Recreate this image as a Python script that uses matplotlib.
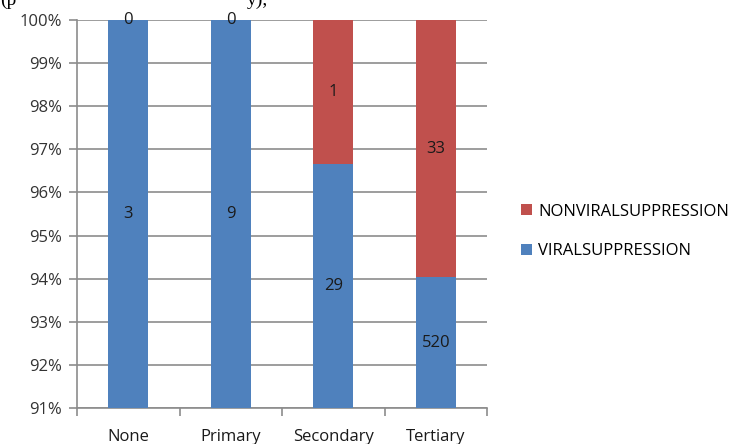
import numpy as np
import matplotlib.pyplot as plt

plt.rcParams['font.family'] = ['Open Sans', 'DejaVu Sans']

# Counts by education level
categories = ['None', 'Primary', 'Secondary', 'Tertiary']
viral = [3, 9, 29, 520]
nonviral = [0, 0, 1, 33]

blue = '#4F81BD'
red = '#C0504D'
grid_col = '#8C8C8C'

viral = np.array(viral, dtype=float)
nonviral = np.array(nonviral, dtype=float)
total = viral + nonviral
viral_pct = viral / total * 100
nonviral_pct = nonviral / total * 100

ymin, ymax = 91, 100

fig = plt.figure(figsize=(7.47, 4.44), dpi=100)
ax = fig.add_axes([0.1031, 0.0811, 0.549, 0.874])

x = np.arange(len(categories))
ax.bar(x, viral_pct, width=0.39, color=blue, zorder=3, label='VIRALSUPPRESSION')
ax.bar(x, nonviral_pct, width=0.39, bottom=viral_pct, color=red, zorder=3,
       label='NONVIRALSUPPRESSION')

# value labels centred in the visible part of each segment
for i in range(len(categories)):
    lo = max(0, ymin)
    hi = min(viral_pct[i], ymax)
    ax.text(x[i], (lo + hi) / 2, f'{int(viral[i])}', ha='center', va='center',
            fontsize=12, color='#1a1a1a', zorder=4)
    lo2 = max(viral_pct[i], ymin)
    hi2 = min(viral_pct[i] + nonviral_pct[i], ymax)
    ax.text(x[i], (lo2 + hi2) / 2, f'{int(nonviral[i])}', ha='center', va='center',
            fontsize=12, color='#1a1a1a', zorder=4)

ax.set_ylim(ymin, ymax)
ax.set_xlim(-0.5, len(categories) - 0.5)
ax.set_yticks(np.arange(ymin, ymax + 1))
ax.set_yticklabels([f'{v}%' for v in range(ymin, ymax + 1)], fontsize=12, color='#333333')
ax.yaxis.grid(True, color=grid_col, linewidth=1.2, zorder=0)

ax.set_xticks(x)
ax.set_xticklabels(categories, fontsize=12, color='#1a1a1a')
ax.tick_params(axis='x', length=0, pad=15)
ax.set_xticks(np.arange(-0.5, len(categories)), minor=True)
ax.tick_params(axis='x', which='minor', length=6, color=grid_col, width=1.2)
ax.tick_params(axis='y', length=6, color=grid_col, width=1.2, pad=5)

for s in ['top', 'right']:
    ax.spines[s].set_visible(False)
for s in ['left', 'bottom']:
    ax.spines[s].set_color(grid_col)
    ax.spines[s].set_linewidth(1.2)

handles, labels = ax.get_legend_handles_labels()
fig.legend(handles[::-1], labels[::-1], loc='center left', bbox_to_anchor=(0.677, 0.479),
           frameon=False, fontsize=12, handlelength=0.65, handleheight=0.65,
           handletextpad=0.4, labelspacing=1.4)

# partially visible caption text running off the top edge
fig.text(0.0, 1.0, '(p', fontsize=14, family='Liberation Serif', va='center')
fig.text(0.33, 1.0, 'y),', fontsize=14, family='Liberation Serif', va='center')

fig.savefig('out.png', dpi=100)
